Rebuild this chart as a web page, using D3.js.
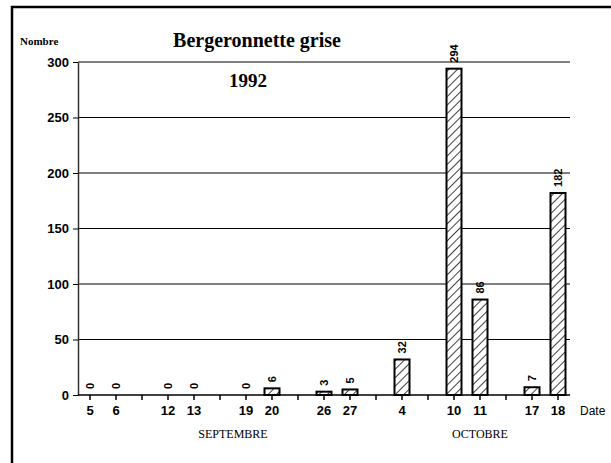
<!DOCTYPE html>
<html>
<head>
<meta charset="utf-8">
<script src="https://d3js.org/d3.v7.min.js"></script>
<style>
  body { margin: 0; background: #fff; }
  svg { display: block; }
  .sans { font-family: "Liberation Sans", Arial, sans-serif; }
  .serif { font-family: "Liberation Serif", "Times New Roman", serif; }
</style>
</head>
<body>
<svg width="611" height="463"></svg>
<script>
  // observation days (week-ends of autumn 1992) and birds counted
  var dates = ["1992-09-05", "1992-09-06", "1992-09-12", "1992-09-13", "1992-09-19", "1992-09-20",
               "1992-09-26", "1992-09-27", "1992-10-04", "1992-10-10", "1992-10-11", "1992-10-17", "1992-10-18"];
  var counts = [0, 0, 0, 0, 0, 6, 3, 5, 32, 294, 86, 7, 182];
  var yTicks = [0, 50, 100, 150, 200, 250, 300];
  var monthNames = ["SEPTEMBRE", "OCTOBRE"];

  var svg = d3.select("svg"),
      width = +svg.attr("width"),
      height = +svg.attr("height");

  // one slot per day, one empty slot between non consecutive days
  var parse = d3.timeParse("%Y-%m-%d");
  var data = [];
  var slot = 0;
  dates.forEach(function(s, i) {
    var d = parse(s);
    if (i > 0) {
      var gap = d3.timeDay.count(data[i - 1].date, d);
      slot += gap == 1 ? 1 : 2;
    }
    data.push({date: d, day: d.getDate(), month: d.getMonth(), slot: slot, n: counts[i]});
  });
  var nSlots = slot;

  var X = d3.scaleLinear().domain([0, nSlots]).range([90, 558]);
  var Y = d3.scaleLinear().domain([0, 300]).range([395, 62]);
  var barW = 15;

  // hatch pattern
  var pat = svg.append("defs").append("pattern")
    .attr("id", "hatch")
    .attr("patternUnits", "userSpaceOnUse")
    .attr("width", 6).attr("height", 6)
    .attr("patternTransform", "rotate(45)");
  pat.append("rect").attr("width", 6).attr("height", 6).attr("fill", "#fff");
  pat.append("line")
    .attr("x1", 0).attr("y1", 0).attr("x2", 0).attr("y2", 6)
    .attr("stroke", "#000").attr("stroke-width", 1.5);

  // frame (left and top)
  svg.append("path")
    .attr("d", "M12," + height + "V7H" + width)
    .attr("fill", "none")
    .attr("stroke", "#000")
    .attr("stroke-width", 2.5);

  // grid
  svg.append("g")
    .selectAll("line")
    .data(yTicks.filter(function(t) { return t > 0; }))
    .enter()
    .append("line")
    .attr("x1", 78).attr("x2", 570)
    .attr("y1", function(d) { return Y(d); })
    .attr("y2", function(d) { return Y(d); })
    .attr("stroke", "#000")
    .attr("stroke-width", 1);

  // y axis
  var yAxis = svg.append("g")
    .attr("class", "sans")
    .attr("transform", "translate(78,0)")
    .call(d3.axisLeft(Y).tickValues(yTicks).tickSize(5).tickSizeOuter(0).tickPadding(4));
  yAxis.select(".domain").attr("stroke", "#333").attr("stroke-width", 1.5);
  yAxis.selectAll("text")
    .attr("font-size", 13).attr("font-weight", "bold")
    .attr("font-family", "Liberation Sans, Arial, sans-serif");

  // x axis
  var xAxis = svg.append("g")
    .attr("transform", "translate(0," + Y(0) + ")");
  xAxis.append("line")
    .attr("x1", 78).attr("x2", 570)
    .attr("stroke", "#000").attr("stroke-width", 1.3);
  xAxis.selectAll(".tick")
    .data(d3.range(0, nSlots + 1))
    .enter()
    .append("line")
    .attr("x1", function(d) { return X(d); })
    .attr("x2", function(d) { return X(d); })
    .attr("y1", 0).attr("y2", 5)
    .attr("stroke", "#000").attr("stroke-width", 1.5);
  xAxis.selectAll(".lbl")
    .data(data)
    .enter()
    .append("text")
    .attr("class", "sans")
    .attr("x", function(d) { return X(d.slot); })
    .attr("y", 20)
    .attr("text-anchor", "middle")
    .attr("font-size", 13).attr("font-weight", "bold")
    .text(function(d) { return d.day; });

  // month labels, centred under their slots
  monthNames.forEach(function(name, m) {
    var ds = data.filter(function(d) { return d.month == 8 + m; });
    var first = ds[0].slot;
    var last = m == monthNames.length - 1 ? ds[ds.length - 1].slot : ds[ds.length - 1].slot + 1;
    svg.append("text")
      .attr("class", "serif")
      .attr("x", X((first + last) / 2))
      .attr("y", 438)
      .attr("text-anchor", "middle")
      .attr("font-size", 12)
      .text(name);
  });

  // bars
  svg.append("g")
    .selectAll("rect")
    .data(data)
    .enter()
    .append("rect")
    .attr("x", function(d) { return X(d.slot) - barW / 2; })
    .attr("y", function(d) { return Y(d.n); })
    .attr("width", barW)
    .attr("height", function(d) { return Y(0) - Y(d.n); })
    .attr("fill", "url(#hatch)")
    .attr("stroke", "#000")
    .attr("stroke-width", 2);

  // value labels, rotated
  svg.append("g")
    .selectAll("text")
    .data(data)
    .enter()
    .append("text")
    .attr("class", "sans")
    .attr("transform", function(d) {
      return "translate(" + (X(d.slot) + 4) + "," + (Y(d.n) - 6) + ") rotate(-90)";
    })
    .attr("font-size", 11).attr("font-weight", "bold")
    .text(function(d) { return d.n; });

  // titles
  svg.append("text")
    .attr("class", "serif")
    .attr("x", 257).attr("y", 47)
    .attr("text-anchor", "middle")
    .attr("font-size", 20).attr("font-weight", "bold")
    .text("Bergeronnette grise");
  svg.append("text")
    .attr("class", "serif")
    .attr("x", 248).attr("y", 87)
    .attr("text-anchor", "middle")
    .attr("font-size", 19).attr("font-weight", "bold")
    .text("1992");
  svg.append("text")
    .attr("class", "serif")
    .attr("x", 20).attr("y", 45)
    .attr("font-size", 11).attr("font-weight", "bold")
    .text("Nombre");
  svg.append("text")
    .attr("class", "sans")
    .attr("x", 580).attr("y", 415)
    .attr("font-size", 12)
    .text("Date");
</script>
</body>
</html>
